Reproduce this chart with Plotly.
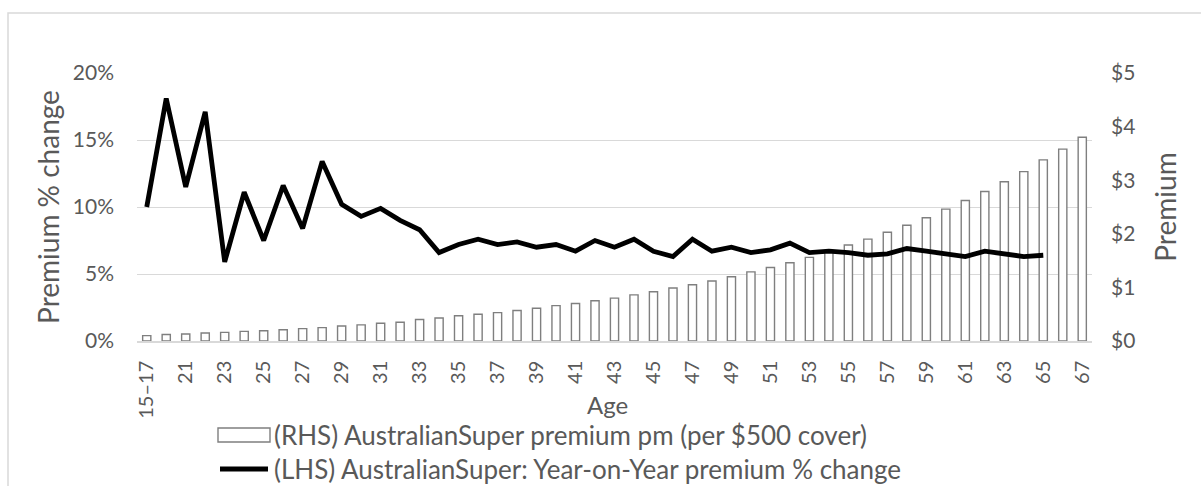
import plotly.graph_objects as go

# Age bands on the category axis
ages = ["15–17", "18–20"] + [str(a) for a in range(21, 68)]

# Monthly premium per $500 cover (right axis, $)
premium_pm = [
    0.10, 0.12, 0.13, 0.15, 0.16, 0.18, 0.19, 0.21, 0.23, 0.25, 0.28, 0.30, 0.33, 0.35,
    0.40, 0.43, 0.47, 0.50, 0.53, 0.57, 0.61, 0.66, 0.70, 0.75, 0.80, 0.86, 0.92, 0.99,
    1.05, 1.12, 1.20, 1.29, 1.37, 1.46, 1.56, 1.66, 1.79, 1.90, 2.03, 2.16, 2.30, 2.46,
    2.62, 2.79, 2.97, 3.16, 3.38, 3.58, 3.80,
]

# Year-on-year premium change (left axis, %), ends at age 65
yoy_change_pct = [
    10.0, 18.1, 11.5, 17.1, 5.9, 11.1, 7.5, 11.6, 8.4, 13.4, 10.2, 9.3, 9.9, 9.0, 8.3,
    6.6, 7.2, 7.6, 7.2, 7.4, 7.0, 7.2, 6.7, 7.5, 7.0, 7.6, 6.7, 6.3, 7.6, 6.7, 7.0,
    6.6, 6.8, 7.3, 6.6, 6.7, 6.6, 6.4, 6.5, 6.9, 6.7, 6.5, 6.3, 6.7, 6.5, 6.3, 6.4,
]

# Every second age is labelled
tick_ages = ages[::2]

bar_name = "(RHS) AustralianSuper premium pm (per $500 cover)"
line_name = "(LHS) AustralianSuper: Year-on-Year premium % change"

FONT = "Lato"
TXT = "#595959"
GRID = "#d9d9d9"
BAR_EDGE = "#7f7f7f"

yoy = [v / 100 for v in yoy_change_pct] + [None] * (len(ages) - len(yoy_change_pct))

fig = go.Figure()
fig.add_trace(go.Bar(
    x=ages, y=premium_pm, yaxis="y", name=bar_name, showlegend=False,
    marker=dict(color="white", line=dict(color=BAR_EDGE, width=1.4)),
    width=0.42,
))
fig.add_trace(go.Scatter(
    x=ages, y=yoy, yaxis="y2", mode="lines", name=line_name, showlegend=False,
    line=dict(color="black", width=4.8),
))

W, H = 1201, 486
L, R, T, B = 137, 109, 73, 145
pw, ph = W - L - R, H - T - B


def px_x(p):
    return (p - L) / pw


def px_y(p):
    return (H - B - p) / ph


# Legend keys drawn below the axis, one row per series
legend_shapes = [
    dict(type="rect", xref="paper", yref="paper",
         x0=px_x(218), x1=px_x(270), y0=px_y(442), y1=px_y(428),
         line=dict(color=BAR_EDGE, width=1.4), fillcolor="white"),
    dict(type="line", xref="paper", yref="paper",
         x0=px_x(220), x1=px_x(268), y0=px_y(469), y1=px_y(469),
         line=dict(color="black", width=5)),
]
text_items = [
    dict(text=bar_name, xref="paper", yref="paper", x=px_x(273), y=px_y(435),
         xanchor="left", yanchor="middle", showarrow=False, borderpad=0,
         font=dict(size=26, color=TXT, family=FONT)),
    dict(text=line_name, xref="paper", yref="paper", x=px_x(273), y=px_y(469),
         xanchor="left", yanchor="middle", showarrow=False, borderpad=0,
         font=dict(size=26, color=TXT, family=FONT)),
    # x-axis title, set in the gap between the rotated tick labels
    dict(text="Age", xref="paper", yref="paper", x=px_x(607), y=px_y(404),
         xanchor="center", yanchor="middle", showarrow=False, borderpad=0,
         font=dict(size=24, color=TXT, family=FONT)),
]

border = dict(
    type="rect", xref="paper", yref="paper",
    x0=px_x(8), x1=px_x(1215), y0=px_y(500), y1=px_y(13),
    line=dict(color=GRID, width=1.5), fillcolor="rgba(0,0,0,0)", layer="below",
)

fig.update_layout(
    width=W, height=H,
    margin=dict(l=L, r=R, t=T, b=B, autoexpand=False),
    paper_bgcolor="white", plot_bgcolor="white",
    font=dict(family=FONT, color=TXT, size=21),
    showlegend=False,
    bargap=0.5,
    xaxis=dict(
        type="category", tickmode="array", tickvals=tick_ages, ticktext=tick_ages,
        tickangle=-90, tickfont=dict(size=20, color=TXT),
        showgrid=False, showline=True, linecolor=GRID, linewidth=1.5,
        ticks="", ticklabelstandoff=10,
    ),
    yaxis=dict(
        side="right", range=[0, 5], dtick=1, tickprefix="$",
        showgrid=False, zeroline=False, showline=False,
        tickfont=dict(size=21, color=TXT), ticklabelstandoff=18,
        title=dict(text="Premium", font=dict(size=28, color=TXT), standoff=22),
    ),
    yaxis2=dict(
        overlaying="y", side="left", range=[0, 0.2], dtick=0.05, tickformat=".0%",
        showgrid=True, gridcolor=GRID, gridwidth=1.3, zeroline=False,
        tickfont=dict(size=21, color=TXT), ticklabelstandoff=22,
        title=dict(text="Premium % change", font=dict(size=28, color=TXT), standoff=4),
    ),
    shapes=[border] + legend_shapes,
    annotations=text_items,
)

fig.write_html("out.html")
